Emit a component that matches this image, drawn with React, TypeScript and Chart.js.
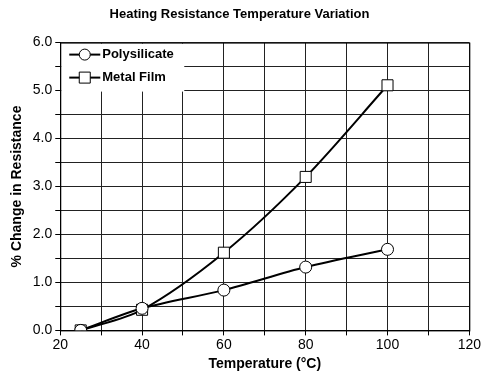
import React, { useEffect, useRef } from "react";
import { Chart, registerables } from "chart.js";

Chart.register(...registerables);

const temperatures = [25, 40, 60, 80, 100];
const polysilicate = [0, 0.46, 0.84, 1.32, 1.69];
const metalFilm = [0, 0.43, 1.62, 3.2, 5.11];
const seriesNames = ["Polysilicate", "Metal Film"];
const FONT = "'Liberation Sans', Arial, sans-serif";

const plotFrame = {
  id: "plotFrame",
  afterDraw(chart: any) {
    const { ctx, chartArea: a } = chart;
    ctx.save();
    const lw = 123, lh = 48;
    ctx.fillStyle = "#fff";
    ctx.fillRect(a.left + 1, a.top + 1, lw, lh);
    const items = [
      { name: seriesNames[0], style: "circle", y: a.top + 12 },
      { name: seriesNames[1], style: "rect", y: a.top + 35 },
    ];
    items.forEach((it) => {
      const x0 = a.left + 9, x1 = a.left + 40, xm = (x0 + x1) / 2;
      ctx.strokeStyle = "#000";
      ctx.lineWidth = 2;
      ctx.beginPath();
      ctx.moveTo(x0, it.y);
      ctx.lineTo(x1, it.y);
      ctx.stroke();
      ctx.lineWidth = 1;
      ctx.fillStyle = "#fff";
      ctx.beginPath();
      if (it.style === "circle") ctx.arc(xm, it.y, 5.5, 0, Math.PI * 2);
      else ctx.rect(xm - 5.5, it.y - 5.5, 11, 11);
      ctx.fill();
      ctx.stroke();
      ctx.fillStyle = "#000";
      ctx.font = `bold 13px ${FONT}`;
      ctx.textBaseline = "middle";
      ctx.textAlign = "left";
      ctx.fillText(it.name, x1 + 2, it.y);
    });
    ctx.strokeStyle = "#000";
    ctx.lineWidth = 1;
    ctx.strokeRect(a.left + 0.5, a.top + 0.5, a.right - a.left, a.bottom - a.top);
    ctx.restore();
  },
};

export default function App() {
  const ref = useRef<HTMLCanvasElement>(null);
  useEffect(() => {
    document.body.style.margin = "0";
    const common = {
      borderColor: "#000",
      borderWidth: 2,
      backgroundColor: "#fff",
      pointBorderWidth: 1,
      pointBorderColor: "#000",
      pointBackgroundColor: "#fff",
      tension: 0.3,
    };
    const chart = new Chart(ref.current!, {
      type: "line",
      data: {
        datasets: [
          {
            ...common,
            label: seriesNames[0],
            data: temperatures.map((t, i) => ({ x: t, y: polysilicate[i] })),
            pointStyle: "circle",
            pointRadius: 6,
          },
          {
            ...common,
            label: seriesNames[1],
            data: temperatures.map((t, i) => ({ x: t, y: metalFilm[i] })),
            pointStyle: "rect",
            pointRadius: 7.8,
          },
        ],
      },
      options: {
        animation: false,
        responsive: false,
        layout: { padding: { top: 0, right: 8, bottom: 12, left: 5 } },
        plugins: {
          legend: { display: false },
          tooltip: { enabled: false },
          title: {
            display: true,
            text: "Heating Resistance Temperature Variation",
            color: "#000",
            font: { family: FONT, size: 13, weight: "bold" },
            padding: { top: 7, bottom: 20 },
          },
        },
        scales: {
          x: {
            type: "linear",
            min: 20,
            max: 120,
            grid: { color: "#222", lineWidth: 1, tickLength: 5, tickColor: "#000" },
            border: { color: "#000" },
            ticks: {
              stepSize: 10,
              color: "#000",
              font: { family: FONT, size: 14 },
              maxRotation: 0,
              autoSkip: false,
              padding: 1,
              callback: (v: any) => (Number(v) % 20 === 0 ? String(v) : ""),
            },
            title: {
              display: true,
              text: "Temperature (°C)",
              color: "#000",
              font: { family: FONT, size: 14, weight: "bold" },
              padding: { top: 2, bottom: 0 },
            },
          },
          y: {
            min: 0,
            max: 6,
            grid: { color: "#222", lineWidth: 1, tickLength: 5, tickColor: "#000" },
            border: { color: "#000" },
            ticks: {
              stepSize: 0.5,
              color: "#000",
              autoSkip: false,
              padding: 3,
              font: { family: FONT, size: 14 },
              callback: (v: any) => (Number(v) % 1 === 0 ? Number(v).toFixed(1) : ""),
            },
            title: {
              display: true,
              text: "% Change in Resistance",
              color: "#000",
              font: { family: FONT, size: 14, weight: "bold" },
              padding: { bottom: 4 },
            },
          },
        },
      },
      plugins: [plotFrame],
    });
    return () => chart.destroy();
  }, []);
  return (
    <div style={{ width: 482, height: 385 }}>
      <canvas ref={ref} width={482} height={385} />
    </div>
  );
}
